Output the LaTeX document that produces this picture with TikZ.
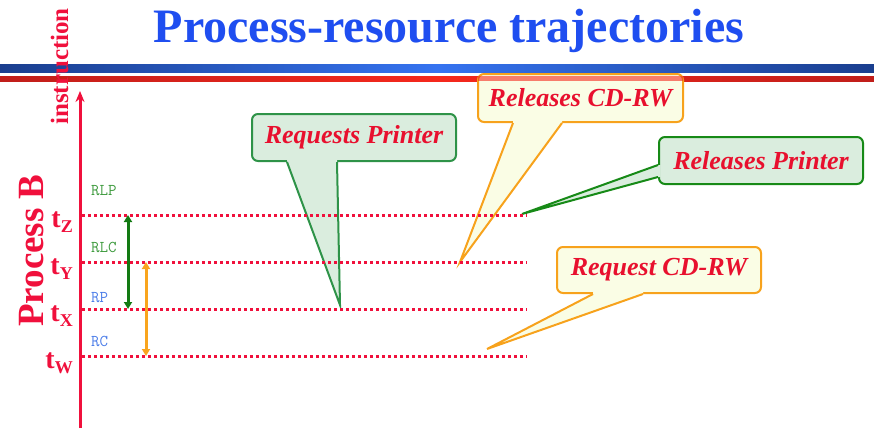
\documentclass[tikz,border=0pt]{standalone}
\usepackage{fontspec}
\setmainfont{Liberation Serif}
\usetikzlibrary{arrows.meta,calc}

\definecolor{titleblue}{HTML}{1F4EF0}
\definecolor{axisred}{HTML}{F0103C}
\definecolor{txtred}{HTML}{E8102E}
\definecolor{barblueD}{HTML}{1A3E8E}
\definecolor{barblueL}{HTML}{3573F0}
\definecolor{barredD}{HTML}{C01E1A}
\definecolor{barredL}{HTML}{F5281C}
\definecolor{grnfill}{HTML}{DAEDDE}
\definecolor{grnedge}{HTML}{2E9348}
\definecolor{grnedgeB}{HTML}{178A17}
\definecolor{ylwfill}{HTML}{FAFDE5}
\definecolor{orgedge}{HTML}{F7A21C}
\definecolor{arrgreen}{HTML}{137A13}
\definecolor{arrorange}{HTML}{F9A51E}
\definecolor{lblgreen}{HTML}{3D9A3D}
\definecolor{lblblue}{HTML}{4A7CE8}

\tikzset{
  dotline/.style={draw=axisred, line width=3pt, dash pattern=on 3pt off 3pt},
  tlab/.style={text=axisred, font=\fontsize{28}{28}\bfseries\selectfont, anchor=base east, inner sep=0pt},
  reslab/.style={font=\fontsize{16.5}{16.5}\ttfamily\selectfont, anchor=west, inner sep=0pt},
  calltext/.style={text=txtred, font=\fontsize{26}{26}\bfseries\itshape\selectfont,
    inner sep=0pt, rounded corners=6pt, line width=2pt},
  greencall/.style={calltext, fill=grnfill, draw=grnedge},
  greencallB/.style={calltext, fill=grnfill, draw=grnedgeB},
  yellowcall/.style={calltext, fill=ylwfill, draw=orgedge},
  span/.style={line width=3pt, {Triangle[length=7pt,width=8pt]}-{Triangle[length=7pt,width=8pt]}},
}
\newcommand{\tsub}[2]{#1\raisebox{-5pt}{\fontsize{18}{18}\selectfont #2}}
% balloon pointer: fill colour, edge colour, base point 1, tip, base point 2, inward shift
\newcommand{\balloontail}[6]{%
  \fill[#1] ($(#3)+(#6)$) -- (#3) -- (#4) -- (#5) -- ($(#5)+(#6)$) -- cycle;
  \draw[#2, line width=2pt, line join=miter] (#3) -- (#4) -- (#5);
}

\begin{document}
\begin{tikzpicture}[x=1pt,y=-1pt]
\useasboundingbox (0,0) rectangle (874,431);

% header bars
\shade[left color=barblueD, right color=barblueD, middle color=barblueL] (0,64) rectangle (874,72);
\shade[left color=barredD, right color=barredD, middle color=barredL] (0,76) rectangle (874,81);

% title
\node[text=titleblue, font=\fontsize{48}{48}\bfseries\selectfont, anchor=base] (title) at (449,42) {Process-resource trajectories};

% balloons
\node[greencall, minimum width=204pt, minimum height=47pt] (rp) at (354,137.5) {Requests Printer};
\node[yellowcall, minimum width=205pt, minimum height=48pt] (rc) at (580.5,98) {Releases CD-RW};
\node[greencallB, minimum width=204pt, minimum height=47pt] (rlp) at (761,160.5) {Releases Printer};
\node[yellowcall, minimum width=204pt, minimum height=46pt] (qc) at (659,270) {Request CD-RW};

\coordinate (rptip) at (340,305);
\coordinate (rctip) at (460,262);
\coordinate (rlptip) at (522,214);
\coordinate (qctip) at (487,349);

\coordinate (rpb1) at ($(rp.south)+(-67,0)$);
\coordinate (rpb2) at ($(rp.south)+(-17,0)$);
\coordinate (rcb1) at ($(rc.south)+(-67.5,0)$);
\coordinate (rcb2) at ($(rc.south)+(-18.5,0)$);
\coordinate (rlpb1) at ($(rlp.west)+(0,4.5)$);
\coordinate (rlpb2) at ($(rlp.west)+(0,16.5)$);
\coordinate (qcb1) at ($(qc.south)+(-66,0)$);
\coordinate (qcb2) at ($(qc.south)+(-16,0)$);

\balloontail{grnfill}{grnedge}{rpb1}{rptip}{rpb2}{0,-2.5}
\balloontail{ylwfill}{orgedge}{rcb1}{rctip}{rcb2}{0,-2.5}
\balloontail{grnfill}{grnedgeB}{rlpb1}{rlptip}{rlpb2}{2.5,0}
\balloontail{ylwfill}{orgedge}{qcb1}{qctip}{qcb2}{0,-2.5}

% red bar showing through the top of the CD-RW balloon
\begin{scope}
  \clip ($(rc.north west)+(1,1)$) rectangle ($(rc.south east)+(-1,-1)$);
  \fill[barredL, opacity=0.6] (0,76) rectangle (874,81);
\end{scope}

% axis labels
\node[rotate=90, anchor=base west, text=axisred, font=\fontsize{25}{25}\bfseries\selectfont, inner sep=0pt] (instr) at (68,125) {instruction};
\node[rotate=90, anchor=base west, text=axisred, font=\fontsize{37}{37}\bfseries\selectfont, inner sep=0pt] (procB) at (43,327) {Process B};

% time levels
\coordinate (zs) at (82,215); \coordinate (ze) at (527,215);
\coordinate (ys) at (82,262); \coordinate (ye) at (527,262);
\coordinate (xs) at (82,309); \coordinate (xe) at (527,309);
\coordinate (ws) at (82,356); \coordinate (we) at (527,356);
\draw[dotline] (zs) -- (ze);
\draw[dotline] (ys) -- (ye);
\draw[dotline] (xs) -- (xe);
\draw[dotline] (ws) -- (we);

\node[tlab] (tz) at (73,227) {\tsub{t}{Z}};
\node[tlab] (ty) at (73,274) {\tsub{t}{Y}};
\node[tlab] (tx) at (73,321) {\tsub{t}{X}};
\node[tlab] (tw) at (73,368) {\tsub{t}{W}};

% vertical axis
\coordinate (abot) at (80,428);
\coordinate (atop) at (80,91);
\draw[axisred, line width=3pt, -{Stealth[length=11pt,width=9pt]}] (abot) -- (atop);

% resource labels
\node[reslab, text=lblgreen] (rlpl) at (91,191) {RLP};
\node[reslab, text=lblgreen] (rlcl) at (91,247) {RLC};
\node[reslab, text=lblblue] (rpl) at (91,298) {RP};
\node[reslab, text=lblblue] (rcl) at (91,341) {RC};

% holding intervals
\coordinate (gtop) at (128,215); \coordinate (gbot) at (128,309);
\coordinate (otop) at (146,262); \coordinate (obot) at (146,356);
\draw[span, arrgreen] (gtop) -- (gbot);
\draw[span, arrorange] (otop) -- (obot);
\end{tikzpicture}
\end{document}
